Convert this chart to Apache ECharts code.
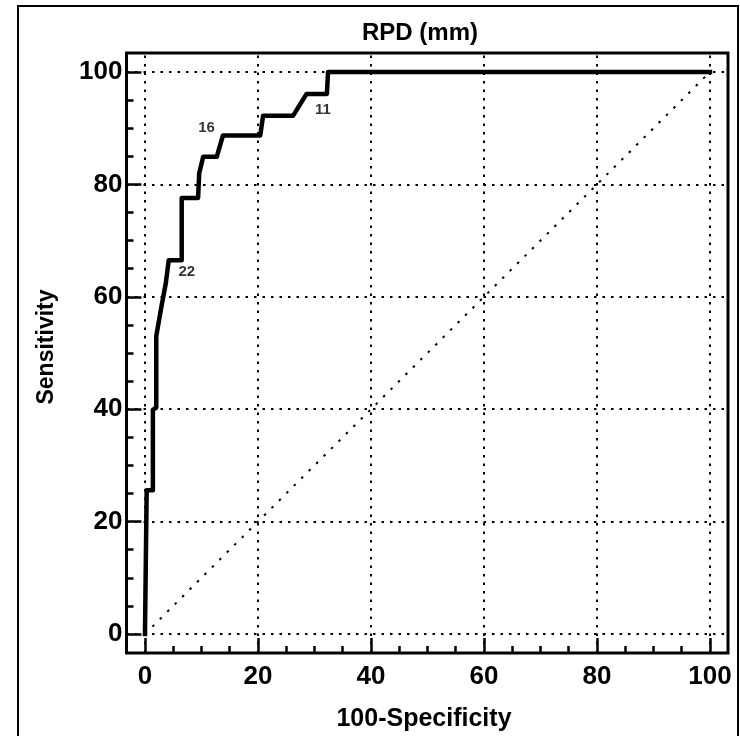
<!DOCTYPE html>
<html><head><meta charset="utf-8">
<script src="https://cdn.jsdelivr.net/npm/echarts@6/dist/echarts.min.js"></script>
<style>html,body{margin:0;padding:0;background:#fff}#c{width:740px;height:736px}</style>
</head><body><div id="c"></div>
<script>
// ROC curve (100-Specificity vs Sensitivity)
const fpr = [0, 0.3, 0.3, 1.4, 1.4, 2.0, 2.0, 2.9, 3.7, 4.2, 6.5, 6.5, 9.4, 9.6, 10.3, 12.7, 13.8, 20.4, 20.9, 26.2, 28.6, 32.2, 32.4, 100];
const tpr = [0, 0, 25.6, 25.6, 39.9, 40.3, 53.0, 58.2, 62.5, 66.5, 66.5, 77.6, 77.6, 82.0, 84.9, 84.9, 88.7, 88.7, 92.2, 92.2, 96.1, 96.1, 100, 100];
// reference diagonal
const diagX = [0, 100];
const diagY = [0, 100];
// tick values
const xTicks = [0, 20, 40, 60, 80, 100];
const yTicks = [0, 20, 40, 60, 80, 100];
// cut-off annotations
const cutLabels = ['22', '16', '11'];
const cutX = [7.4, 10.9, 31.5];
const cutY = [64.4, 90.1, 93.3];
// texts
const titleText = 'RPD (mm)';
const xName = '100-Specificity';
const yName = 'Sensitivity';

const FONT = "'Liberation Sans', Arial, Helvetica, sans-serif";
// axis extents: plot frame is slightly wider than 0..100
const X_MIN = -3.27, X_MAX = 103.19;
const Y_MIN = -3.38, Y_MAX = 103.38;

function minorOf(ticks) {
  const out = [];
  for (let i = 0; i < ticks.length - 1; i++) {
    const step = (ticks[i + 1] - ticks[i]) / 4;
    for (let k = 1; k < 4; k++) out.push(ticks[i] + k * step);
  }
  return out;
}

const chart = echarts.init(document.getElementById('c'), null, {renderer: 'canvas'});

const tickStyle = {color: '#000', width: 2.5};
const labelStyle = {color: '#000', fontSize: 26, fontWeight: 'bold', fontFamily: FONT};

chart.setOption({
  animation: false,
  backgroundColor: '#fff',
  grid: {left: 126.5, top: 53, right: 12, bottom: 83, show: true, borderColor: '#000', borderWidth: 3, backgroundColor: 'transparent'},
  xAxis: [
    {
      type: 'value', position: 'bottom', offset: 0, min: X_MIN, max: X_MAX,
      axisLine: {show: false, onZero: false},
      axisTick: {show: true, inside: true, length: 15, customValues: xTicks, lineStyle: tickStyle},
      axisLabel: Object.assign({customValues: xTicks, margin: 11}, labelStyle),
      splitLine: {show: false}
    },
    {
      type: 'value', position: 'bottom', offset: 0, min: X_MIN, max: X_MAX,
      axisLine: {show: false, onZero: false},
      axisTick: {show: true, inside: true, length: 7, customValues: minorOf(xTicks), lineStyle: tickStyle},
      axisLabel: {show: false},
      splitLine: {show: false}
    }
  ],
  yAxis: [
    {
      type: 'value', position: 'left', offset: 0, min: Y_MIN, max: Y_MAX,
      axisLine: {show: false, onZero: false},
      axisTick: {show: true, inside: true, length: 15, customValues: yTicks, lineStyle: tickStyle},
      axisLabel: Object.assign({customValues: yTicks, margin: 4}, labelStyle),
      splitLine: {show: false}
    },
    {
      type: 'value', position: 'left', offset: 0, min: Y_MIN, max: Y_MAX,
      axisLine: {show: false, onZero: false},
      axisTick: {show: true, inside: true, length: 7, customValues: minorOf(yTicks), lineStyle: tickStyle},
      axisLabel: {show: false},
      splitLine: {show: false}
    }
  ],
  graphic: [
    {type: 'rect', shape: {x: 18, y: 6, width: 720, height: 740}, style: {fill: 'none', stroke: '#000', lineWidth: 2}, silent: true},
    {type: 'text', x: 420, y: 33, style: {text: titleText, fill: '#000', font: 'bold 24px ' + FONT, textAlign: 'center', textVerticalAlign: 'middle'}},
    {type: 'text', x: 47, y: 347, rotation: Math.PI / 2, style: {text: yName, fill: '#000', font: 'bold 23px ' + FONT, textAlign: 'center', textVerticalAlign: 'middle'}},
    {type: 'text', x: 424, y: 719, style: {text: xName, fill: '#000', font: 'bold 25px ' + FONT, textAlign: 'center', textVerticalAlign: 'middle'}}
  ],
  series: [
    {
      type: 'line', xAxisIndex: 0, yAxisIndex: 0, symbol: 'none', clip: false, z: 3,
      data: diagX.map((x, i) => [x, diagY[i]]),
      lineStyle: {color: '#000', width: 2, type: [2.5, 8]},
      markLine: {
        silent: true, symbol: ['none', 'none'], label: {show: false},
        lineStyle: {color: '#000', width: 2, type: [2.5, 6]},
        data: xTicks.map(v => ({xAxis: v})).concat(yTicks.map(v => ({yAxis: v})))
      }
    },
    {
      type: 'line', xAxisIndex: 0, yAxisIndex: 0, symbol: 'none', clip: false, z: 5,
      data: fpr.map((x, i) => [x, tpr[i]]),
      lineStyle: {color: '#000', width: 4.5, join: 'round', cap: 'square'}
    },
    {
      type: 'scatter', xAxisIndex: 0, yAxisIndex: 0, symbolSize: 0, z: 6,
      data: cutX.map((x, i) => ({value: [x, cutY[i]], name: cutLabels[i]})),
      label: {show: true, position: 'inside', formatter: p => p.name, color: '#000', fontSize: 15, fontWeight: 'bold', fontFamily: FONT}
    }
  ]
});
</script>
</body></html>
